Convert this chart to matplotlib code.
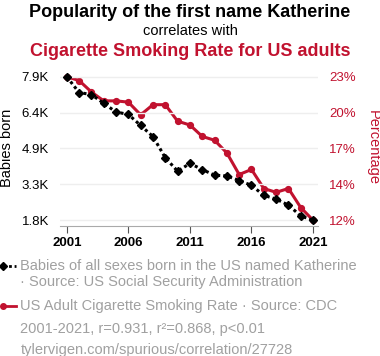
import numpy as np
import matplotlib.pyplot as plt
from matplotlib.lines import Line2D

plt.rcParams['font.family'] = ['Liberation Sans', 'DejaVu Sans']

# Datos
anios = list(range(2001, 2022))
bebes = [7900, 7230, 7145, 6774, 6404, 6304, 5834, 5363, 4466, 3896, 4223,
         3967, 3725, 3696, 3497, 3297, 2870, 2713, 2456, 2000, 1815]
fumadores = [22.8, 22.5, 21.6, 20.9, 20.9, 20.8, 19.8, 20.6, 20.6, 19.3, 19.0,
             18.1, 17.8, 16.8, 15.1, 15.5, 14.0, 13.7, 14.0, 12.5, 11.5]
anios_ticks = [2001, 2006, 2011, 2016, 2021]

ROJO = '#c1122f'
GRIS = '#a0a0a0'

fig = plt.figure(figsize=(3.8, 3.56), dpi=100)
ax1 = fig.add_axes([60 / 380, 1 - 226 / 356, 258 / 380, 155 / 356])
ax2 = ax1.twinx()
ax1.set_zorder(ax2.get_zorder() + 1)
ax1.patch.set_visible(False)


def limites(valores):
    lo, hi = min(valores), max(valores)
    pad = (hi - lo) * 0.04
    return lo - pad, hi + pad


ax2.plot(anios, fumadores, color=ROJO, lw=2.2, marker='o', ms=4.2)
ax1.plot(anios, bebes, color='black', lw=2.2, ls=(0, (1, 1)), marker='D', ms=4.5)

ax1.set_ylim(*limites(bebes))
ax2.set_ylim(*limites(fumadores))
ax1.set_xlim(2000.45, 2021.4)

ticks_b = np.linspace(min(bebes), max(bebes), 5)
ticks_f = np.linspace(min(fumadores), max(fumadores), 5)
ax1.set_yticks(ticks_b)
ax1.set_yticklabels([f"{t / 1000:.1f}K" for t in ticks_b], fontsize=9.5)
ax2.set_yticks(ticks_f)
ax2.set_yticklabels([f"{t:.0f}%" for t in ticks_f], fontsize=9.5, color=ROJO)
ax1.grid(axis='y', color='#eeeeee', lw=1)

ax1.set_xticks(anios_ticks)
ax1.set_xticklabels([str(a) for a in anios_ticks], fontsize=9.5, fontweight='bold')
ax1.tick_params(axis='x', length=5, color='#555555', pad=3)
ax1.tick_params(axis='y', length=0, pad=8)
ax2.tick_params(axis='y', length=0, pad=8)

for ax in (ax1, ax2):
    for lado in ('top', 'left', 'right'):
        ax.spines[lado].set_visible(False)
ax1.spines['bottom'].set_color('#aaaaaa')
ax2.spines['bottom'].set_visible(False)

fig.text(7.5 / 380, 1 - 148 / 356, 'Babies born', rotation=90, fontsize=10.5,
         ha='center', va='center')
fig.text(373 / 380, 1 - 147 / 356, 'Percentage', rotation=270, fontsize=10.5,
         ha='center', va='center', color=ROJO)

# Titulos
fig.text(0.5, 1 - 12.5 / 356, 'Popularity of the first name Katherine',
         fontsize=13, fontweight='bold', ha='center', va='center')
fig.text(0.5, 1 - 31 / 356, 'correlates with', fontsize=10.5, ha='center', va='center')
fig.text(0.5, 1 - 51.5 / 356, 'Cigarette Smoking Rate for US adults',
         fontsize=13, fontweight='bold', ha='center', va='center', color=ROJO)

# Leyenda manual
def y_fig(px):
    return 1 - px / 356


fig.add_artist(Line2D([3 / 380, 16 / 380], [y_fig(266)] * 2, color='black', lw=2,
                      ls=(0, (1, 1)), marker='D', ms=4, markevery=[0],
                      transform=fig.transFigure))
fig.add_artist(Line2D([3 / 380, 16 / 380], [y_fig(306)] * 2, color=ROJO, lw=2,
                      marker='o', ms=4, markevery=[0], transform=fig.transFigure))

textos = [
    (266, 'Babies of all sexes born in the US named Katherine'),
    (282, '· Source: US Social Security Administration'),
    (306, 'US Adult Cigarette Smoking Rate · Source: CDC'),
    (329.5, '2001-2021, r=0.931, r²=0.868, p<0.01'),
    (350, 'tylervigen.com/spurious/correlation/27728'),
]
for y, t in textos:
    fig.text(20.5 / 380, y_fig(y), t, fontsize=10.5, color=GRIS, ha='left', va='center')

fig.savefig('out.png', dpi=100)
